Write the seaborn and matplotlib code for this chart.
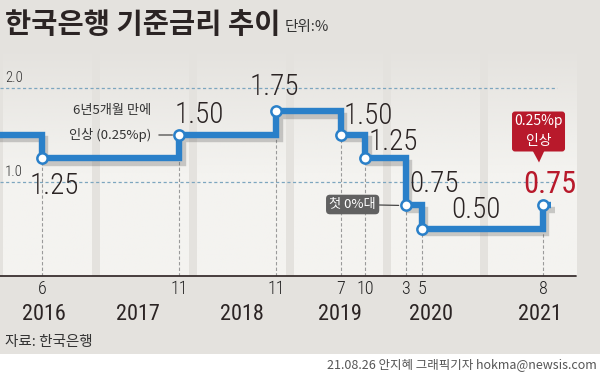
import numpy as np
import pandas as pd
import matplotlib
matplotlib.use('Agg')
import matplotlib.pyplot as plt
import matplotlib.patheffects as pe
import matplotlib.transforms as mtrans
from matplotlib.patches import FancyBboxPatch, Polygon, Rectangle
from matplotlib import font_manager
import seaborn as sns

# ---------------- data ----------------
dates = ['2015-12', '2016-06', '2017-11', '2018-11', '2019-07',
         '2019-10', '2020-03', '2020-05', '2021-08', '2021-09']
rates = [1.50, 1.25, 1.50, 1.75, 1.50, 1.25, 0.75, 0.50, 0.75, 0.75]
rate_labels = ['1.25', '1.50', '1.75', '1.50', '1.25', '0.75', '0.50', '0.75']
month_labels = ['6', '11', '11', '7', '10', '3', '5', '8']
years = [2016, 2017, 2018, 2019, 2020, 2021]
grid_values = [1.0, 2.0]
grid_labels = ['1.0', '2.0']

title = '한국은행 기준금리 추이'
unit = '단위:%'
source = '자료: 한국은행'
credit = '21.08.26 안지혜 그래픽기자 hokma@newsis.com'
note_hike = ['6년5개월 만에', '인상 (0.25%p)']
note_zero = '첫 0%대'
note_last = ['0.25%p', '인상']

# ---------------- helpers ----------------
def frac_year(s):
    y, m = s.split('-')
    return int(y) + (int(m) - 1) / 12.0

xs = [frac_year(d) for d in dates]
df = pd.DataFrame({'x': xs, 'rate': rates})
chg = df.iloc[1:9].reset_index(drop=True)

sns.set_style('white')
avail = {f.name for f in font_manager.fontManager.ttflist}
NUM = 'DejaVu Sans'
for cand in ['Roboto Condensed', 'Liberation Sans Narrow', 'Archivo Narrow',
             'Asap Condensed', 'Barlow Semi Condensed']:
    if cand in avail:
        NUM = cand
        break
KR = ['Noto Sans CJK KR', 'DejaVu Sans']
plt.rcParams['font.family'] = KR

W, H = 600, 377
BG = '#e4e2de'
BLUE = '#2a80c9'
RED = '#b8192b'
DARK = '#2b2424'

fig = plt.figure(figsize=(W / 100, H / 100), dpi=100, facecolor=BG)
# white strip at the bottom
fig.add_artist(Rectangle((0, 0), 1, (H - 354) / H, transform=fig.transFigure,
                         facecolor='white', edgecolor='none', zorder=0))

axis_px, top_px = 276, 40
ax = fig.add_axes([0, (H - axis_px) / H, 1, (axis_px - top_px) / H])
ax.set_facecolor('none')
ppy = 96.97  # px per year
x0 = 2016 - 1.6 / ppy
ylim_top = 1.0 + (182 - top_px) / 94.0
for s in ax.spines.values():
    s.set_visible(False)
ax.set_xticks([])
ax.set_yticks([])

# year bands with gradient fading upwards
band_rgb = np.array([0xf4, 0xf3, 0xf0]) / 255.0
ny = 200
yy = np.linspace(0, 2.45, ny)
alpha = np.clip((2.45 - yy) / (2.45 - 1.1), 0, 1)
grad = np.zeros((ny, 2, 4))
grad[..., :3] = band_rgb
grad[..., 3] = alpha[:, None]
for yr in years:
    ax.imshow(grad, origin='lower', extent=[yr + 0.012, yr + 0.925, 0, 2.45],
              aspect='auto', zorder=0, interpolation='bilinear')
ax.set_xlim(x0, x0 + W / ppy)
ax.set_ylim(0, ylim_top)

# dashed grid lines
for gv, gl in zip(grid_values, grid_labels):
    ax.axhline(gv, xmin=0, xmax=557 / W, color='#7da6bf', lw=0.9,
               dashes=(2.5, 2), zorder=1)
    ax.annotate(gl, xy=(x0, gv), xytext=(5, 3), textcoords='offset pixels',
                ha='left', va='bottom', fontsize=10.5, family=NUM, fontweight='light',
                color='#333333')

# vertical dashed drop lines
for x, r in zip(chg['x'], chg['rate']):
    ax.plot([x, x], [0, r], color='#9a9a9a', lw=0.8, dashes=(3, 2), zorder=1)

# axis line
ax.axhline(0, xmin=0, xmax=576 / W, color='#3a3030', lw=1.3, clip_on=False, zorder=3)

# step line
sns.lineplot(data=df, x='x', y='rate', drawstyle='steps-post', sort=False,
             estimator=None, color=BLUE, lw=4.6, ax=ax, zorder=4, legend=False)
ln = ax.lines[-1]
ln.set_solid_joinstyle('miter')
ln.set_solid_capstyle('butt')
ln.set_path_effects([pe.SimpleLineShadow(offset=(2.5, -3), shadow_color='#555555', alpha=0.28),
                     pe.Normal()])

# markers
sns.scatterplot(data=chg, x='x', y='rate', s=55, color='white', edgecolor=BLUE,
                linewidth=1.8, zorder=6, ax=ax, legend=False, clip_on=False)
ax.set_xlabel('')
ax.set_ylabel('')
ax.set_xlim(x0, x0 + W / ppy)
ax.set_ylim(0, ylim_top)

# value labels
label_offsets = [(12, -28, 'center'), (-5, 20, 'left'), (-2, 24, 'center'),
                 (3, 19, 'left'), (3, 16, 'left'), (4, 21, 'left'),
                 (29, 19, 'left'), (7, 21, 'center')]
for i, (lab, (dx, dy, ha)) in enumerate(zip(rate_labels, label_offsets)):
    last = i == len(rate_labels) - 1
    ax.annotate(lab, xy=(chg['x'][i], chg['rate'][i]), xytext=(dx, dy),
                textcoords='offset pixels', ha=ha, va='center',
                fontsize=22 if last else 21, family=NUM,
                fontweight='normal' if last else 'light',
                color=RED if last else DARK, zorder=7)

# month labels
for i, m in enumerate(month_labels):
    ax.annotate(m, xy=(chg['x'][i], 0), xytext=(0, -13), textcoords='offset pixels',
                ha='center', va='center', fontsize=13, family=NUM, fontweight='light',
                color='#222222', annotation_clip=False)

# year labels
year_label_pos = [0.432, 0.402, 0.479, 0.49, 0.428, 0.552]
for yr, off in zip(years, year_label_pos):
    ax.annotate(str(yr), xy=(yr + off, 0), xytext=(0, -39), textcoords='offset pixels',
                ha='center', va='center', fontsize=16, family=NUM, color=DARK,
                annotation_clip=False)

# note: 6년5개월 만에 인상
i_h = 1
ax.annotate(note_hike[0], xy=(chg['x'][i_h], chg['rate'][i_h]), xytext=(-28, 24),
            textcoords='offset pixels', ha='right', va='center', fontsize=9.5,
            family=KR, color='#333333')
ax.annotate(note_hike[1], xy=(chg['x'][i_h], chg['rate'][i_h]), xytext=(-28, 0),
            textcoords='offset pixels', ha='right', va='center', fontsize=9.5,
            family=KR, color='#333333',
            arrowprops=dict(arrowstyle='-', color='#333333', lw=0.8, shrinkA=3, shrinkB=5))

# note: 첫 0%대
i_z = 5
ax.annotate(note_zero, xy=(chg['x'][i_z], chg['rate'][i_z]), xytext=(-53, 1),
            textcoords='offset pixels', ha='center', va='center', fontsize=9.5,
            family=KR, color='white', zorder=7,
            bbox=dict(boxstyle='round,pad=0.25,rounding_size=0.3', fc='#616161', ec='none'),
            arrowprops=dict(arrowstyle='-', color='#333333', lw=0.8, shrinkA=0, shrinkB=5))

# red callout for the last hike
i_l = 7
px, py = ax.transData.transform((chg['x'][i_l], chg['rate'][i_l]))
ident = mtrans.IdentityTransform()
cx, cy = px - 4.5, py + 74
bw, bh, rp = 53, 40, 3
fig.add_artist(FancyBboxPatch((cx - bw / 2 + rp, cy - bh / 2 + rp), bw - 2 * rp, bh - 2 * rp,
                              boxstyle=f'round,pad={rp}', transform=ident,
                              facecolor=RED, edgecolor='none', zorder=8))
fig.add_artist(Polygon([(cx - 6, cy - bh / 2 + 1), (cx + 6, cy - bh / 2 + 1), (px - 4, py + 43)],
                       closed=True, transform=ident, facecolor=RED, edgecolor='none', zorder=8))
fig.text(cx / W, (py + 84) / H, note_last[0], ha='center', va='center', fontsize=10,
         family=KR, color='white', zorder=9)
fig.text(cx / W, (py + 64) / H, note_last[1], ha='center', va='center', fontsize=10,
         family=KR, color='white', zorder=9)

# titles and footers
fig.text(5 / W, 1 - 25 / H, title, ha='left', va='center', fontsize=20.5,
         fontweight='bold', family=KR, color=DARK)
fig.text(285 / W, 1 - 27 / H, unit, ha='left', va='center', fontsize=10.5,
         family=KR, color='#333333')
fig.text(5 / W, 1 - 342 / H, source, ha='left', va='center', fontsize=10.5,
         family=KR, color='#333333')
fig.text(597 / W, 1 - 365 / H, credit, ha='right', va='center', fontsize=9,
         family=KR, color='#555555')

fig.savefig('out.png', dpi=100, facecolor=BG)
